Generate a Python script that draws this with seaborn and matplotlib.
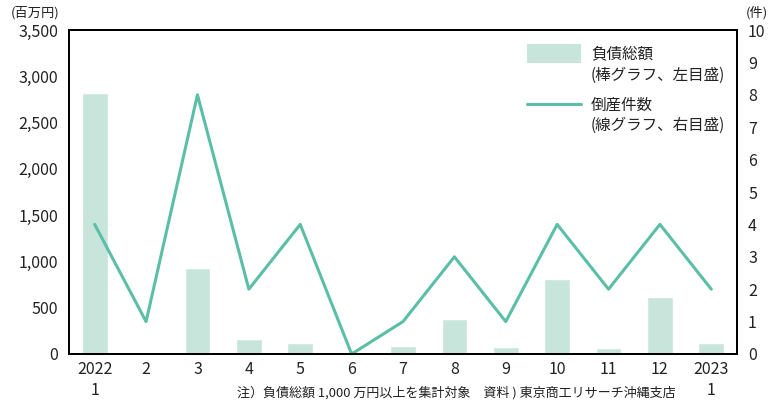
import matplotlib
matplotlib.use("Agg")
import matplotlib.pyplot as plt
from matplotlib.ticker import FuncFormatter, MultipleLocator
from matplotlib.patches import Rectangle
from matplotlib.lines import Line2D
import seaborn as sns
import pandas as pd

sns.set_theme(style="white")
plt.rcParams["font.family"] = ["Noto Sans CJK JP", "DejaVu Sans"]

# Monthly data, Jan 2022 - Jan 2023
months = ["2022\n1", "2", "3", "4", "5", "6", "7", "8", "9", "10", "11", "12", "2023\n1"]
debt_total = [2820, 0, 925, 162, 115, 0, 86, 378, 76, 810, 65, 616, 119]   # 百万円
bankruptcies = [4, 1, 8, 2, 4, 0, 1, 3, 1, 4, 2, 4, 2]                      # 件

BAR_COLOR = "#c8e5dc"
LINE_COLOR = "#5bbea6"
TEXT_COLOR = "#222222"

df = pd.DataFrame({"month": months, "debt": debt_total, "count": bankruptcies})

W, H = 776, 405
fig = plt.figure(figsize=(W / 100, H / 100), dpi=100)
ax = fig.add_axes([69 / W, 1 - 354 / H, (737 - 69) / W, (354 - 30) / H])


def fx(px):
    return px / W


def fy(py):
    return 1 - py / H


sns.barplot(data=df, x="month", y="debt", color=BAR_COLOR, width=0.5,
            saturation=1, ax=ax, order=months)
ax.set_ylim(0, 3500)
ax.set_xlim(-0.5, len(months) - 0.5)
ax.yaxis.set_major_locator(MultipleLocator(500))
ax.yaxis.set_major_formatter(FuncFormatter(lambda v, p: f"{int(v):,}"))
ax.set_xlabel("")
ax.set_ylabel("")

ax2 = ax.twinx()
sns.lineplot(x=list(range(len(months))), y=bankruptcies, color=LINE_COLOR,
             linewidth=2.2, ax=ax2)
ax2.set_ylim(0, 10)
ax2.yaxis.set_major_locator(MultipleLocator(1))
ax2.set_xlim(-0.5, len(months) - 0.5)

for a in (ax, ax2):
    for s in a.spines.values():
        s.set_color("black")
        s.set_linewidth(1.4)
    a.tick_params(length=0, labelsize=11.5, colors=TEXT_COLOR)
ax.tick_params(axis="y", pad=8)
ax2.tick_params(axis="y", pad=8)
ax.tick_params(axis="x", pad=5)
ax.set_xticks(range(len(months)))
ax.set_xticklabels(months, linespacing=1.35)

# unit labels
fig.text(fx(35), fy(13), "(百万円)", ha="center", va="center", fontsize=9.5, color=TEXT_COLOR)
fig.text(fx(757), fy(13), "(件)", ha="center", va="center", fontsize=9.5, color=TEXT_COLOR)

# legend keys and labels
fig.add_artist(Rectangle((fx(527), fy(63)), fx(581) - fx(527), fy(44) - fy(63),
                         transform=fig.transFigure, facecolor=BAR_COLOR, edgecolor="none"))
fig.add_artist(Line2D([fx(527), fx(581)], [fy(104), fy(104)],
                      transform=fig.transFigure, color=LINE_COLOR, linewidth=2.2))
legend_lines = [("負債総額", 55), ("(棒グラフ、左目盛)", 75),
                ("倒産件数", 105), ("(線グラフ、右目盛)", 125)]
for txt, y in legend_lines:
    fig.text(fx(591), fy(y), txt, ha="left", va="center", fontsize=11.2, color=TEXT_COLOR)

fig.text(fx(456), fy(393),
         "注）負債総額 1,000 万円以上を集計対象　資料 ) 東京商工リサーチ沖縄支店",
         ha="center", va="center", fontsize=9.4, color=TEXT_COLOR)

fig.savefig("out.png", dpi=100)
